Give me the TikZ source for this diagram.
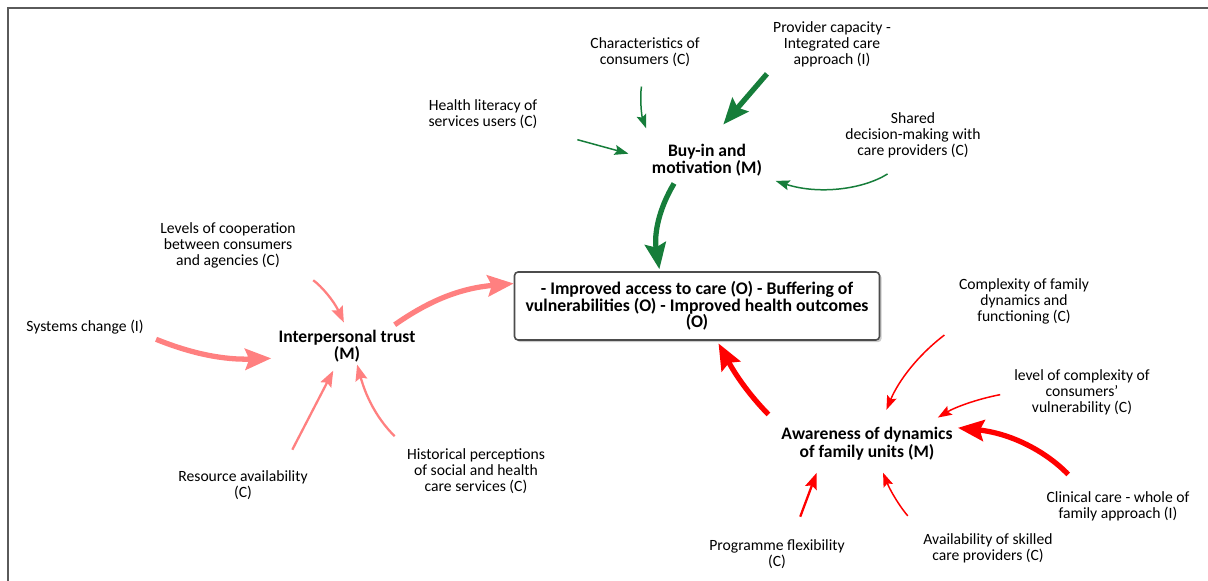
\documentclass[tikz,border=0pt]{standalone}
\usepackage{fontspec}
\setmainfont{Carlito}
\usetikzlibrary{arrows.meta, shadows}

\definecolor{buyGreen}{RGB}{22,125,58}
\definecolor{trustPink}{RGB}{255,128,128}
\definecolor{awareRed}{RGB}{255,0,0}
\definecolor{frameGray}{RGB}{90,90,90}

\tikzstyle{factor} = [align=center, inner sep=0pt, font=\fontsize{8.9}{9.1}\selectfont]
\tikzstyle{mech} = [align=center, inner sep=0pt, font=\fontsize{10}{10}\selectfont\bfseries]
\tikzstyle{outcome} = [rectangle, rounded corners=2pt, draw=black!70, line width=0.9pt, fill=white, minimum width=7.3cm, minimum height=1.36cm, align=center, font=\fontsize{10.1}{9.5}\selectfont\bfseries, drop shadow={shadow xshift=1.2pt, shadow yshift=-1.2pt, fill=black!40}]
\tikzstyle{linkThin} = [line width=0.85pt, -{Stealth[length=0.28cm, width=0.2cm, inset=0.05cm]}]
\tikzstyle{linkMid} = [line width=1.3pt, -{Stealth[length=0.32cm, width=0.24cm, inset=0.05cm]}]
\tikzstyle{linkThick} = [line width=3pt, -{Stealth[length=0.52cm, width=0.42cm, inset=0.08cm]}]

\begin{document}
\begin{tikzpicture}[x=0.02cm, y=0.02cm]

\useasboundingbox (0,0) rectangle (1208,-581);
\draw[frameGray, line width=1.1pt] (8,-581) -- (8,-8) -- (1208,-8);

% Outcome
\node (out) [outcome] at (697,-306) {- Improved access to care (O) - Buffering of\\vulnerabilities (O) - Improved health outcomes\\(O)};

% Buy-in cluster (green)
\node (buy) [mech] at (707,-160) {Buy-in and\\motivation (M)};
\node (char) [factor] at (645,-52) {Characteristics of\\consumers (C)};
\node (prov) [factor] at (832,-44) {Provider capacity -\\Integrated care\\approach (I)};
\node (health) [factor] at (483,-114) {Health literacy of\\services users (C)};
\node (shared) [factor] at (913,-135) {Shared\\decision-making with\\care providers (C)};

% Trust cluster (pink)
\node (trust) [mech] at (347,-346) {Interpersonal trust\\(M)};
\node (levels) [factor] at (228,-245) {Levels of cooperation\\between consumers\\and agencies (C)};
\node (systems) [factor] at (85,-327) {Systems change (I)};
\node (resource) [factor] at (243,-485) {Resource availability\\(C)};
\node (hist) [factor] at (476,-471) {Historical perceptions\\of social and health\\care services (C)};

% Awareness cluster (red)
\node (aware) [mech] at (867,-444) {Awareness of dynamics\\of family units (M)};
\node (complexity) [factor] at (1024,-301) {Complexity of family\\dynamics and\\functioning (C)};
\node (levelc) [factor] at (1082,-392) {level of complexity of\\consumers'\\vulnerability (C)};
\node (clinical) [factor] at (1118,-506) {Clinical care - whole of\\family approach (I)};
\node (prog) [factor] at (777,-554) {Programme flexibility\\(C)};
\node (avail) [factor] at (988,-548) {Availability of skilled\\care providers (C)};

% Green arrows
\draw [linkThin, buyGreen, shorten <=0.4cm, shorten >=0.32cm] (char.south) to[bend right=15] (buy.north west);
\draw [linkThick, buyGreen, shorten <=0.18cm, shorten >=0.5cm] (prov.south west) -- (buy.north);
\draw [linkThin, buyGreen, shorten <=0.82cm, shorten >=0.48cm] (health.south east) -- (buy.west);
\draw [linkThin, buyGreen, shorten <=0.6cm, shorten >=0.28cm] (shared.south) to[bend left=25] (buy.south east);
\draw [linkThick, buyGreen, shorten <=0.16cm, shorten >=0.04cm] (buy.210) to[bend right=20] (out.137);

% Pink arrows
\draw [linkMid, trustPink, shorten <=0.42cm, shorten >=0.15cm] (levels.south east) to[bend left=15] (trust.north);
\draw [linkThick, trustPink, shorten <=0.26cm, shorten >=0.14cm] (systems.south east) to[bend right=12] (trust.190);
\draw [linkThick, trustPink, shorten <=0.16cm] (trust.22) to[bend left=15] (out.173);
\draw [linkMid, trustPink, shorten <=0.46cm, shorten >=0.18cm] (resource.21) -- (trust.240);
\draw [linkMid, trustPink, shorten <=0.34cm, shorten >=0.04cm] (hist.north west) to[bend left=15] (trust.300);

% Red arrows
\draw [linkThin, awareRed, shorten <=0.36cm, shorten >=0.38cm] (complexity.south west) to[bend right=15] (aware.54);
\draw [linkThin, awareRed, shorten <=0.28cm, shorten >=0.38cm] (levelc.west) to[bend right=10] (aware.17);
\draw [linkThick, awareRed, shorten <=0.46cm, shorten >=0.1cm] (clinical.156) to[bend right=20] (aware.north east);
\draw [linkThick, awareRed, shorten <=0.36cm, shorten >=0.06cm] (aware.north west) to[bend left=8] (out.300);
\draw [linkMid, awareRed, shorten <=0.48cm, shorten >=0.26cm] (prog.45) -- (aware.200);
\draw [linkThin, awareRed, shorten <=0.46cm, shorten >=0.26cm] (avail.north west) to[bend left=10] (aware.304);

\end{tikzpicture}
\end{document}
